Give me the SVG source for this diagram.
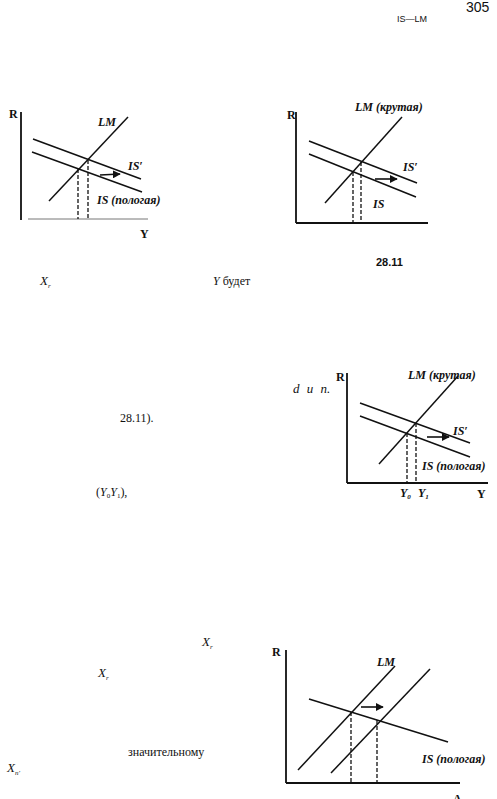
<svg xmlns="http://www.w3.org/2000/svg" width="497" height="799" viewBox="0 0 497 799">
<defs>
<marker id="ah" viewBox="0 0 10 10" refX="9" refY="5" markerWidth="5" markerHeight="5" orient="auto" markerUnits="strokeWidth">
<path d="M0,0 L10,5 L0,10 z" fill="#111"/>
</marker>
<style>
.ax{stroke:#111;stroke-width:1.8;fill:none}
.axt{stroke:#777;stroke-width:1;fill:none}
.cv{stroke:#111;stroke-width:1.5;fill:none}
.ds{stroke:#111;stroke-width:1.3;stroke-dasharray:4,2;fill:none}
.ar{stroke:#111;stroke-width:1.6;fill:none;marker-end:url(#ah)}
.lb{font-family:"Liberation Serif",serif;font-style:italic;font-weight:bold;font-size:12px;fill:#111}
.ax-l{font-family:"Liberation Serif",serif;font-weight:bold;font-size:12px;fill:#111}
.tx{font-family:"Liberation Serif",serif;font-size:12px;fill:#111}
.it{font-family:"Liberation Serif",serif;font-style:italic;font-size:13px;fill:#111}
.sb{font-size:7px}
</style>
</defs>
<rect width="497" height="799" fill="#fff"/>

<g id="header">
<text x="466" y="12" font-family="Liberation Sans, sans-serif" font-size="14" fill="#111">305</text>
<text x="397" y="22" font-family="Liberation Sans, sans-serif" font-size="9" fill="#111">IS—LM</text>
</g>

<g id="graph1">
<g id="g1-axes">
<line class="ax" x1="21" y1="112" x2="21" y2="220"/>
<line class="axt" x1="28" y1="219" x2="148" y2="219"/>
<text class="ax-l" x="9" y="118">R</text>
<text class="ax-l" x="140" y="238">Y</text>
</g>
<g id="g1-curves">
<line class="cv" x1="49" y1="201" x2="128" y2="117"/>
<line class="cv" x1="33" y1="139" x2="141" y2="179"/>
<line class="cv" x1="32" y1="152" x2="142" y2="192"/>
<line class="ds" x1="78" y1="169" x2="78" y2="219"/>
<line class="ds" x1="88" y1="160" x2="88" y2="219"/>
<line class="ar" x1="100" y1="175" x2="120" y2="174"/>
</g>
<text class="lb" x="98" y="126">LM</text>
<text class="lb" x="128" y="170">IS′</text>
<text class="lb" x="97" y="204">IS (пологая)</text>
</g>

<g id="graph2">
<g id="g2-axes">
<line class="ax" x1="296" y1="112" x2="296" y2="223"/>
<line class="ax" x1="296" y1="223" x2="428" y2="223"/>
<text class="ax-l" x="287" y="119">R</text>
</g>
<g id="g2-curves">
<line class="cv" x1="325" y1="203" x2="402" y2="117"/>
<line class="cv" x1="309" y1="141" x2="417" y2="183"/>
<line class="cv" x1="309" y1="154" x2="416" y2="197"/>
<line class="ds" x1="353" y1="172" x2="353" y2="223"/>
<line class="ds" x1="361" y1="162" x2="361" y2="223"/>
<line class="ar" x1="375" y1="179" x2="397" y2="179"/>
</g>
<text class="lb" x="355" y="111" font-size="13">LM (крутая)</text>
<text class="lb" x="403" y="171">IS′</text>
<text class="lb" x="373" y="208">IS</text>
</g>

<g id="text1">
<text x="376" y="266" font-family="Liberation Sans Narrow, Liberation Sans, sans-serif" font-weight="bold" font-size="11" fill="#111">28.11</text>
<text class="it" x="40" y="285">X<tspan class="sb" dy="3">r</tspan></text>
<text class="tx" x="213" y="285" font-size="13"><tspan font-style="italic">Y</tspan> будет</text>
<text class="it" x="293" y="393" word-spacing="4">d и n.</text>
<text class="tx" x="120" y="422" font-size="13">28.11).</text>
<text class="tx" x="96" y="496">(<tspan font-style="italic">Y</tspan><tspan class="sb" dy="2">0</tspan><tspan font-style="italic" dy="-2">Y</tspan><tspan class="sb" dy="2">1</tspan><tspan dy="-2">),</tspan></text>
</g>

<g id="graph3">
<g id="g3-axes">
<line class="ax" x1="347" y1="373" x2="347" y2="483"/>
<line class="ax" x1="347" y1="483" x2="488" y2="483"/>
<text class="ax-l" x="336" y="381">R</text>
<text class="ax-l" x="477" y="498">Y</text>
<text class="lb" x="400" y="497" font-weight="normal">Y<tspan class="sb" dy="2">0</tspan></text>
<text class="lb" x="418" y="497" font-weight="normal">Y<tspan class="sb" dy="2">1</tspan></text>
</g>
<g id="g3-curves">
<line class="cv" x1="379" y1="464" x2="458" y2="376"/>
<line class="cv" x1="360" y1="403" x2="470" y2="443"/>
<line class="cv" x1="360" y1="416" x2="470" y2="457"/>
<line class="ds" x1="407" y1="433" x2="407" y2="483"/>
<line class="ds" x1="416" y1="423" x2="416" y2="483"/>
<line class="ar" x1="427" y1="437" x2="449" y2="437"/>
</g>
<text class="lb" x="408" y="379" font-size="13">LM (крутая)</text>
<text class="lb" x="453" y="435">IS′</text>
<text class="lb" x="422" y="470">IS (пологая)</text>
</g>

<g id="text2">
<text class="it" x="202" y="646">X<tspan class="sb" dy="3">r</tspan></text>
<text class="it" x="98" y="677">X<tspan class="sb" dy="3">r</tspan></text>
<text class="tx" x="128" y="756">значительному</text>
<text class="it" x="7" y="772">X<tspan class="sb" dy="3">n′</tspan></text>
</g>

<g id="graph4">
<g id="g4-axes">
<line class="ax" x1="286" y1="650" x2="286" y2="783"/>
<line class="ax" x1="286" y1="783" x2="460" y2="783"/>
<text class="ax-l" x="272" y="656">R</text>
<text class="ax-l" x="453" y="803">A</text>
</g>
<g id="g4-curves">
<line class="cv" x1="298" y1="770" x2="395" y2="666"/>
<line class="cv" x1="331" y1="773" x2="430" y2="669"/>
<line class="cv" x1="309" y1="699" x2="448" y2="742"/>
<line class="ds" x1="351" y1="712" x2="351" y2="783"/>
<line class="ds" x1="377" y1="720" x2="377" y2="783"/>
<line class="ar" x1="361" y1="707" x2="383" y2="707"/>
</g>
<text class="lb" x="377" y="666">LM</text>
<text class="lb" x="422" y="763">IS (пологая)</text>
</g>
</svg>
